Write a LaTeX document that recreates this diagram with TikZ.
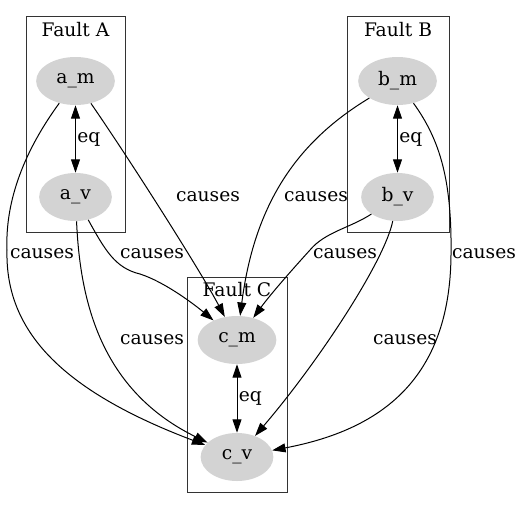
\documentclass[tikz,border=0pt]{standalone}
\usepackage{fontspec}
\setmainfont{DejaVu Serif}
\usetikzlibrary{arrows.meta,shapes.geometric}
\definecolor{nodegray}{RGB}{211,211,211}
\begin{document}
\begin{tikzpicture}[x=0.75pt,y=-0.75pt,
  font=\fontsize{14}{16}\selectfont,
  every node/.style={inner sep=0pt},
  mnode/.style={ellipse,fill=nodegray,minimum width=59pt,minimum height=36pt},
  vnode/.style={ellipse,fill=nodegray,minimum width=54.5pt,minimum height=36pt},
  cluster/.style={draw=black!80,line width=0.75pt},
  edge/.style={line width=0.75pt,-{Triangle[length=10pt,width=6.7pt]}},
  biedge/.style={line width=0.75pt,{Triangle[length=10pt,width=6.7pt]}-{Triangle[length=10pt,width=6.7pt]}},
  lbl/.style={fill=none}]
\useasboundingbox (0,0) rectangle (524,508);
% clusters
\draw[cluster] (26,16) rectangle (125,232);
\draw[cluster] (347,16) rectangle (449,232);
\draw[cluster] (187,277) rectangle (287,492);
\node (ta) at (75.5,30) {Fault A};
\node (tb) at (398,30) {Fault B};
\node (tc) at (237,290) {Fault C};
% nodes
\node[mnode] (am) at (75.5,81) {a\_m};
\node[vnode] (av) at (75.5,197) {a\_v};
\node[mnode] (bm) at (397.5,81) {b\_m};
\node[vnode] (bv) at (397.5,197) {b\_v};
\node[mnode] (cm) at (237,340) {c\_m};
\node[vnode] (cv) at (237,457) {c\_v};
% eq edges
\draw[biedge] (am) -- node[right=1pt] {eq} (av);
\draw[biedge] (bm) -- node[right=1pt] {eq} (bv);
\draw[biedge] (cm) -- node[right=1pt] {eq} (cv);
% causes edges from A
\draw[edge] (am) .. controls (25,150) and (5,200) .. (7,250)
  .. controls (5,330) and (60,390) .. (cv);
\node[lbl] (l1) at (42,254) {causes};
\draw[edge] (am) .. controls (130,160) and (200,270) .. (cm);
\node[lbl] (l2) at (208,197) {causes};
\draw[edge] (av) .. controls (105,250) and (115,268) .. (140,274)
  .. controls (165,282) and (195,305) .. (cm);
\node[lbl] (l3) at (152,254) {causes};
\draw[edge] (av) .. controls (80,300) and (100,390) .. (cv);
\node[lbl] (l4) at (152,340) {causes};
% causes edges from B
\draw[edge] (bm) .. controls (300,140) and (255,200) .. (cm);
\node[lbl] (l5) at (316,197) {causes};
\draw[edge] (bm) .. controls (440,140) and (452,180) .. (451,255)
  .. controls (450,380) and (380,430) .. (cv);
\node[lbl] (l6) at (484,254) {causes};
\draw[edge] (bv) .. controls (350,228) and (325,232) .. (310,250)
  .. controls (290,272) and (270,295) .. (cm);
\node[lbl] (l7) at (345,254) {causes};
\draw[edge] (bv) .. controls (385,260) and (320,360) .. (cv);
\node[lbl] (l8) at (405,340) {causes};
\end{tikzpicture}
\end{document}
